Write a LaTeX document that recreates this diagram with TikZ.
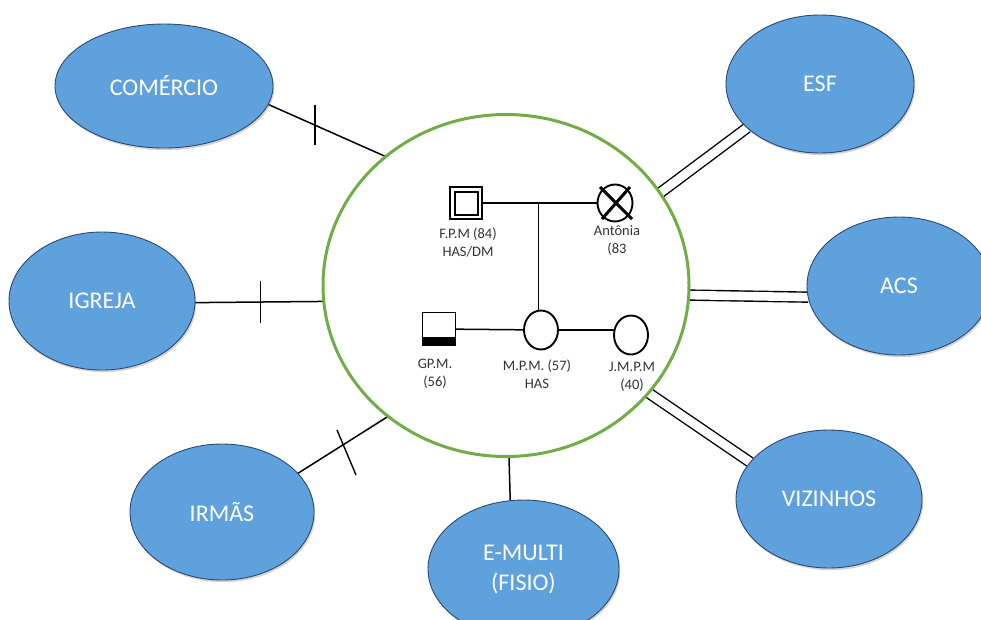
\documentclass[tikz,border=0pt]{standalone}
\usepackage{fontspec}
\setmainfont{Carlito}
\usetikzlibrary{shapes.geometric,shadows,backgrounds}

\definecolor{c5fa1dd}{RGB}{95,161,221}
\definecolor{c2b4a72}{RGB}{43,74,114}
\definecolor{c70ad47}{RGB}{112,173,71}
\definecolor{c333333}{RGB}{51,51,51}

\begin{document}
\begin{tikzpicture}[x=1pt, y=-1pt, inner sep=0pt, outer sep=0pt,
  rede/.style={ellipse, draw=c2b4a72, line width=0.9pt, fill=c5fa1dd, text=white,
    align=center, font=\fontsize{24}{30}\selectfont,
    drop shadow={shadow xshift=1.2pt, shadow yshift=-2.2pt, opacity=0.35}},
  membro/.style={draw, line width=1.9pt},
  rotulo/.style={text=c333333, align=center, font=\fontsize{14.5}{18}\selectfont},
  elo/.style={line width=1.5pt},
  forte/.style={double, double distance=8.6pt, line width=1.4pt},
  corte/.style={line width=1.4pt}]
  \useasboundingbox (0,0) rectangle (981,619);

  \node[ellipse, draw=c70ad47, line width=3pt, minimum width=366pt,
    minimum height=342pt] (fam) at (506,285.5) {};

  \node[rede, minimum width=218pt, minimum height=124pt] (comercio) at (164,86) {COMÉRCIO};
  \node[rede, minimum width=186pt, minimum height=138pt] (igreja) at (102,301) {IGREJA};
  \node[rede, minimum width=184pt, minimum height=136pt] (irmas) at (222,512) {IRMÃS};
  \node[rede, minimum width=191pt, minimum height=138pt] (emulti) at (523.5,569) {E-MULTI\\(FISIO)};
  \node[rede, minimum width=188pt, minimum height=138pt] (esf) at (820,84) {ESF};
  \node[rede, minimum width=184pt, minimum height=138pt] (acs) at (899,286) {ACS};
  \node[rede, minimum width=186pt, minimum height=138pt] (vizinhos) at (829,499) {VIZINHOS};

  % genograma
  \node[membro, double, double distance=2.5pt, line width=2pt, minimum size=27.5pt] (fpm) at (466,203) {};
  \node[membro, ellipse, minimum width=35pt, minimum height=37pt] (antonia) at (615,203) {};
  \draw[line width=3pt] ([shift={(-15,-16)}]antonia.center) -- ([shift={(17,16)}]antonia.center);
  \draw[line width=3pt] ([shift={(15,-16)}]antonia.center) -- ([shift={(-13,16)}]antonia.center);
  \node[membro, minimum size=33pt] (gpm) at (439,329) {};
  \fill (gpm.south west) rectangle ([yshift=9pt]gpm.south east);
  \node[membro, ellipse, minimum width=34pt, minimum height=39pt] (mpm) at (541,330) {};
  \node[membro, ellipse, minimum width=34pt, minimum height=39pt] (jmpm) at (631,335) {};

  \node[rotulo] (fpmtxt) at (468,242) {F.P.M (84)\\HAS/DM};
  \node[rotulo] (antoniatxt) at (617,241) {Antônia\\(83};
  \node[rotulo] (gpmtxt) at (435,374) {GP.M.\\(56)};
  \node[rotulo] (mpmtxt) at (537,374) {M.P.M. (57)\\HAS};
  \node[rotulo] (jmpmtxt) at (632,377) {J.M.P.M\\(40)};

  \begin{pgfonlayer}{background}
    \draw[elo] (fpm) -- coordinate[pos=0.5] (prole) (antonia);
    \draw[elo] (prole) -- (prole |- mpm.north);
    \draw[elo] (gpm) -- (mpm);
    \draw[elo] (mpm.east) -- (mpm.east -| jmpm.west);

    \draw[elo] (comercio.-10) -- coordinate[pos=0.4] (tc) (fam.133);
    \draw[corte] ([yshift=20pt]tc) -- ([yshift=-20pt]tc);
    \draw[elo] (igreja.-1) -- coordinate[pos=0.51] (ti) (fam.185.5);
    \draw[corte] ([yshift=21pt]ti) -- ([yshift=-21pt]ti);
    \draw[elo] (irmas.27) -- coordinate[pos=0.5] (tr) (fam.228);
    \draw[corte] ([shift={(-6,-15)}]tr) -- ([shift={(13,30)}]tr);
    \draw[elo] (fam.271.5) -- (emulti.101);

    \draw[forte] (fam.31.6) -- (esf.211.8);
    \draw[forte] (fam.-3.8) -- (acs.187.2);
    \draw[forte] (fam.-37.3) -- (vizinhos.155.7);
  \end{pgfonlayer}
\end{tikzpicture}
\end{document}
